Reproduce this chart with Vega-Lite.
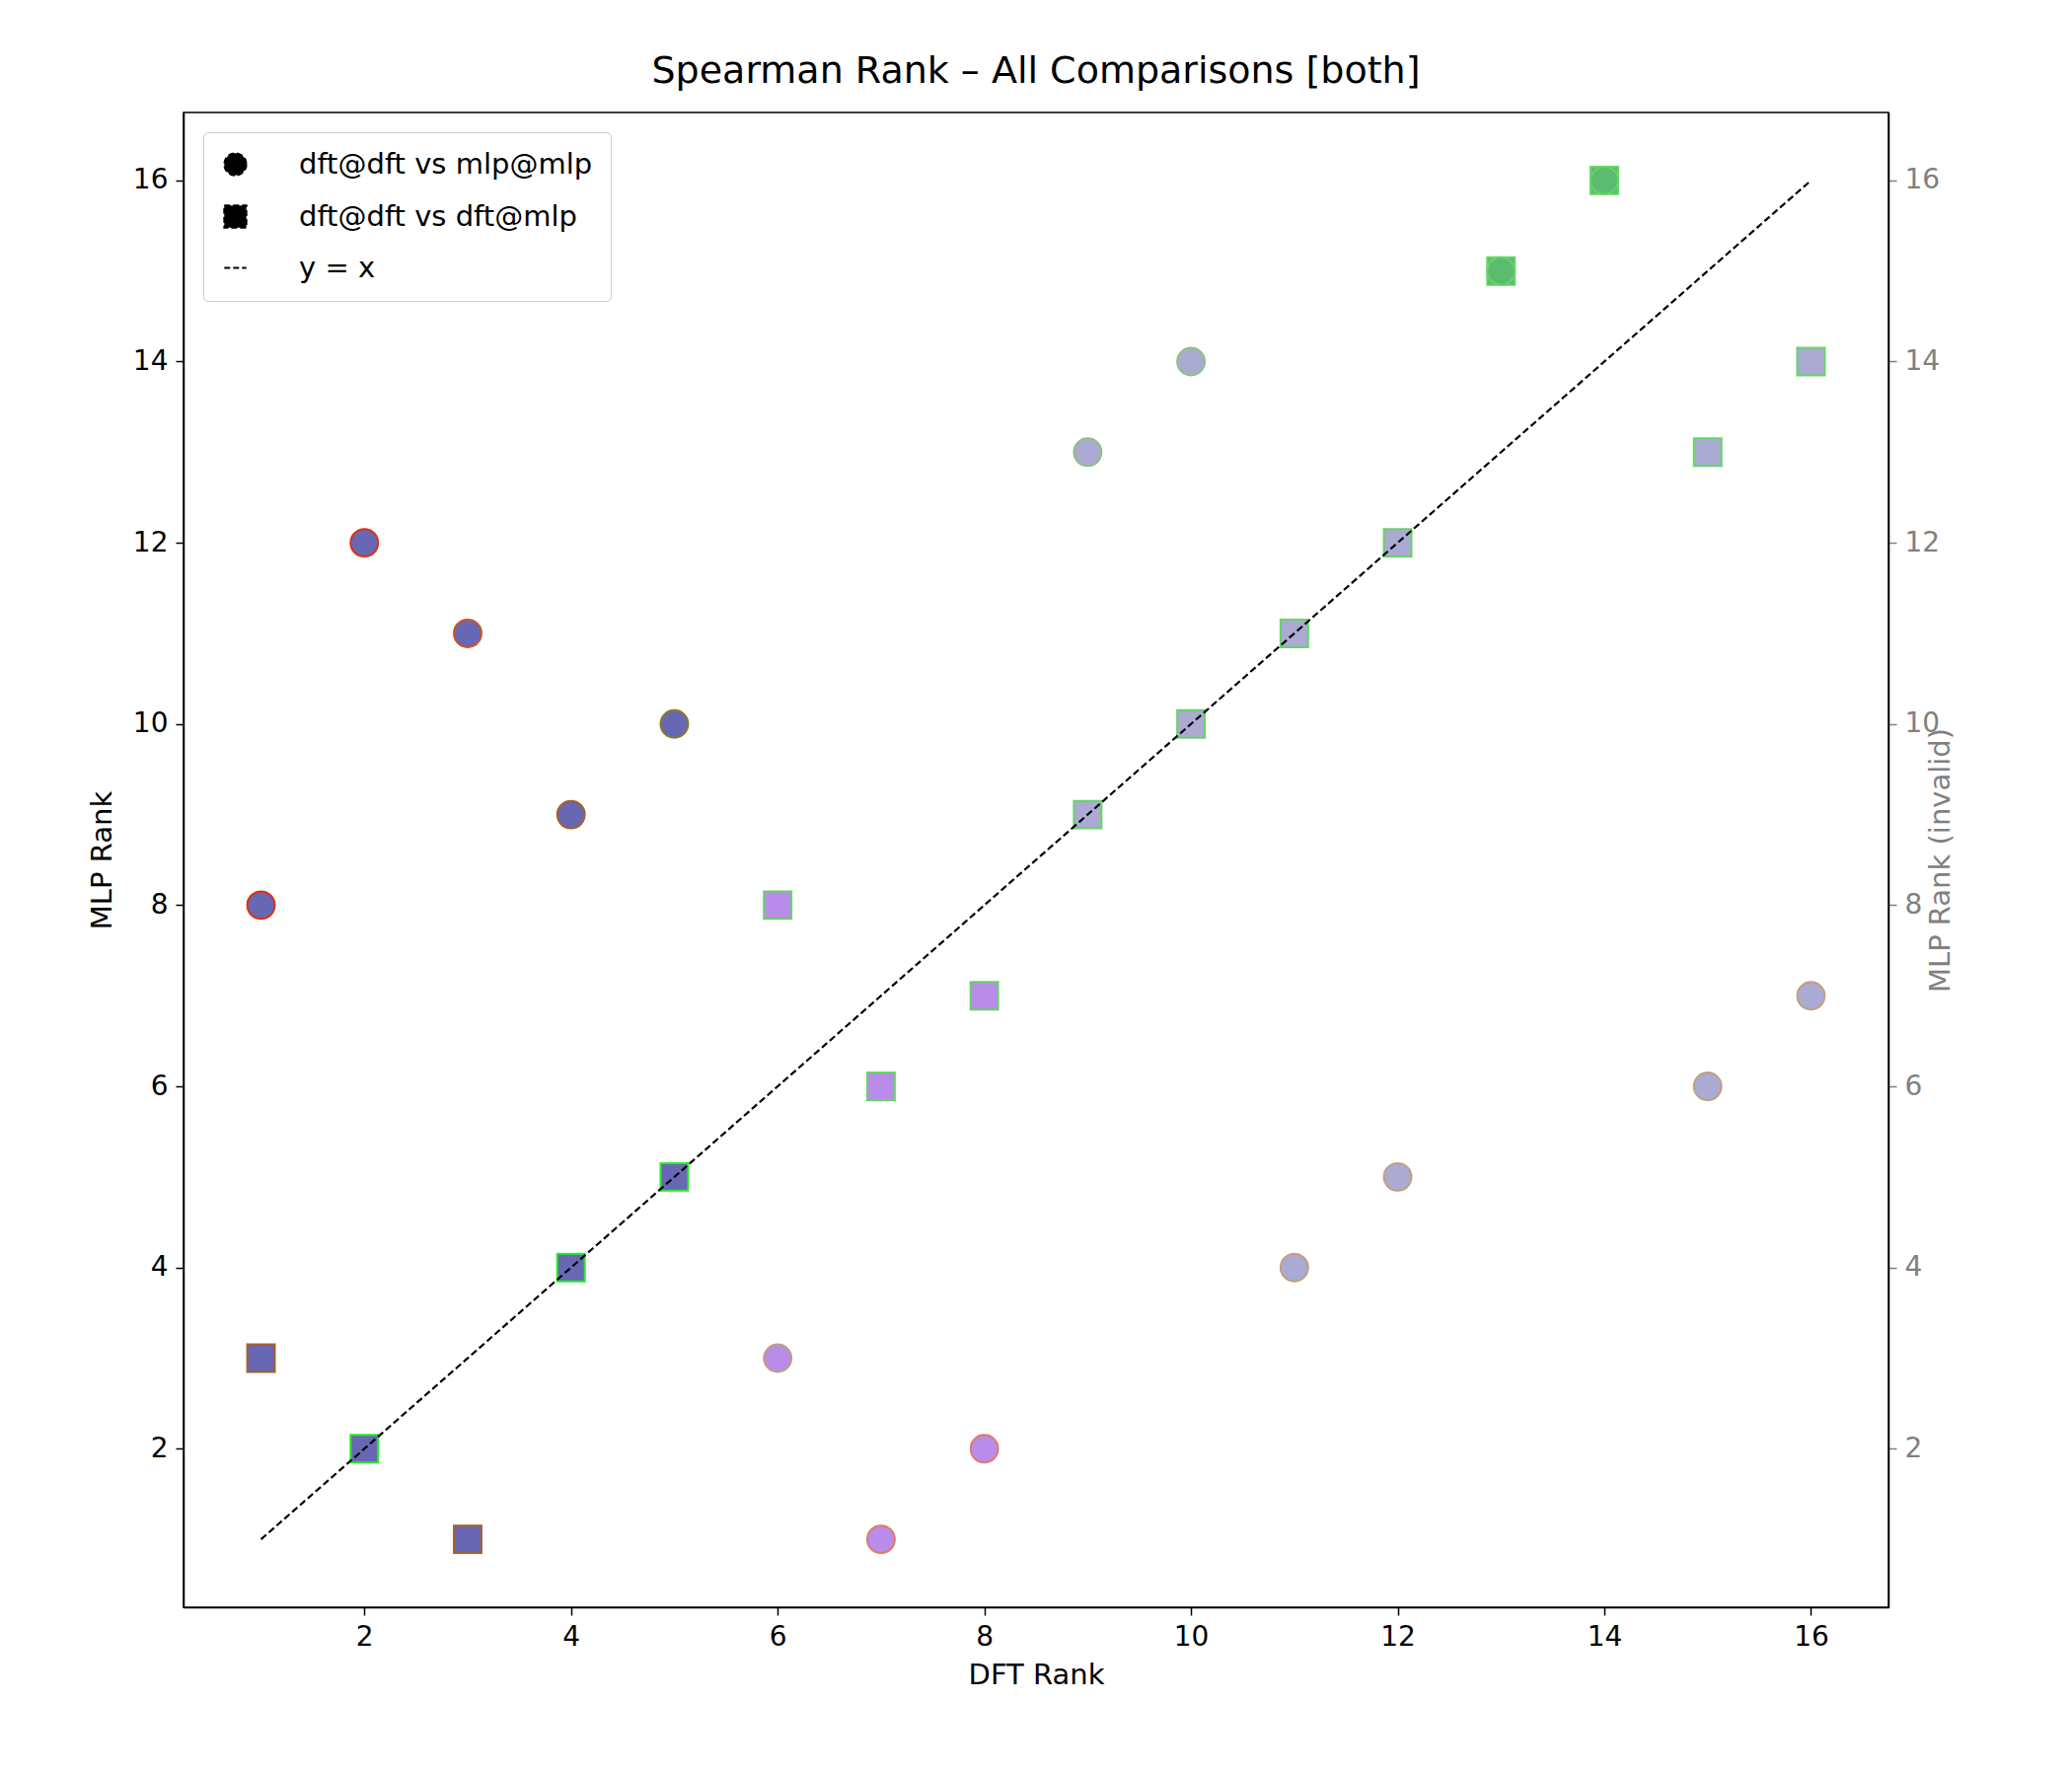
{
  "$schema": "https://vega.github.io/schema/vega-lite/v6.json",
  "width": 1728,
  "height": 1515,
  "autosize": {"type": "none"},
  "padding": {"left": 186, "top": 114, "right": 186, "bottom": 171},
  "background": "white",
  "config": {
    "font": "DejaVu Sans",
    "view": {"stroke": "black", "strokeWidth": 1.5},
    "axis": {"grid": false, "domainColor": "black", "tickColor": "black", "labelColor": "black", "titleColor": "black", "labelFontSize": 28, "titleFontSize": 29, "titleFontWeight": "normal", "tickSize": 8, "domainWidth": 1.5, "tickWidth": 1.5, "labelPadding": 8},
    "title": {"fontSize": 38, "fontWeight": "normal", "offset": 22}
  },
  "title": "Spearman Rank – All Comparisons [both]",
  "datasets": {
    "pts": [
      {"dft": 1, "mlp": 8, "series": "dft@dft vs mlp@mlp", "grp": "a", "edge": "red"},
      {"dft": 2, "mlp": 12, "series": "dft@dft vs mlp@mlp", "grp": "a", "edge": "red"},
      {"dft": 3, "mlp": 11, "series": "dft@dft vs mlp@mlp", "grp": "a", "edge": "orange"},
      {"dft": 4, "mlp": 9, "series": "dft@dft vs mlp@mlp", "grp": "a", "edge": "brown"},
      {"dft": 5, "mlp": 10, "series": "dft@dft vs mlp@mlp", "grp": "a", "edge": "olive"},
      {"dft": 6, "mlp": 3, "series": "dft@dft vs mlp@mlp", "grp": "b", "edge": "tan"},
      {"dft": 7, "mlp": 1, "series": "dft@dft vs mlp@mlp", "grp": "b", "edge": "salmon"},
      {"dft": 8, "mlp": 2, "series": "dft@dft vs mlp@mlp", "grp": "b", "edge": "salmon"},
      {"dft": 9, "mlp": 13, "series": "dft@dft vs mlp@mlp", "grp": "c", "edge": "sage"},
      {"dft": 10, "mlp": 14, "series": "dft@dft vs mlp@mlp", "grp": "c", "edge": "sage"},
      {"dft": 11, "mlp": 4, "series": "dft@dft vs mlp@mlp", "grp": "c", "edge": "tan"},
      {"dft": 12, "mlp": 5, "series": "dft@dft vs mlp@mlp", "grp": "c", "edge": "tan"},
      {"dft": 15, "mlp": 6, "series": "dft@dft vs mlp@mlp", "grp": "c", "edge": "tan"},
      {"dft": 16, "mlp": 7, "series": "dft@dft vs mlp@mlp", "grp": "c", "edge": "tan"},
      {"dft": 1, "mlp": 3, "series": "dft@dft vs dft@mlp", "grp": "a", "edge": "brown"},
      {"dft": 2, "mlp": 2, "series": "dft@dft vs dft@mlp", "grp": "a", "edge": "bright"},
      {"dft": 3, "mlp": 1, "series": "dft@dft vs dft@mlp", "grp": "a", "edge": "brown"},
      {"dft": 4, "mlp": 4, "series": "dft@dft vs dft@mlp", "grp": "a", "edge": "bright"},
      {"dft": 5, "mlp": 5, "series": "dft@dft vs dft@mlp", "grp": "a", "edge": "bright"},
      {"dft": 6, "mlp": 8, "series": "dft@dft vs dft@mlp", "grp": "b", "edge": "green"},
      {"dft": 7, "mlp": 6, "series": "dft@dft vs dft@mlp", "grp": "b", "edge": "green"},
      {"dft": 8, "mlp": 7, "series": "dft@dft vs dft@mlp", "grp": "b", "edge": "green"},
      {"dft": 9, "mlp": 9, "series": "dft@dft vs dft@mlp", "grp": "c", "edge": "green"},
      {"dft": 10, "mlp": 10, "series": "dft@dft vs dft@mlp", "grp": "c", "edge": "green"},
      {"dft": 11, "mlp": 11, "series": "dft@dft vs dft@mlp", "grp": "c", "edge": "green"},
      {"dft": 12, "mlp": 12, "series": "dft@dft vs dft@mlp", "grp": "c", "edge": "green"},
      {"dft": 13, "mlp": 15, "series": "dft@dft vs dft@mlp", "grp": "d", "edge": "green"},
      {"dft": 14, "mlp": 16, "series": "dft@dft vs dft@mlp", "grp": "d", "edge": "green"},
      {"dft": 15, "mlp": 13, "series": "dft@dft vs dft@mlp", "grp": "c", "edge": "green"},
      {"dft": 16, "mlp": 14, "series": "dft@dft vs dft@mlp", "grp": "c", "edge": "green"},
      {"dft": 13, "mlp": 15, "series": "dft@dft vs mlp@mlp", "grp": "d", "edge": "green"},
      {"dft": 14, "mlp": 16, "series": "dft@dft vs mlp@mlp", "grp": "d", "edge": "green"}
    ],
    "diag": [
      {"dft": 1, "mlp": 1},
      {"dft": 16, "mlp": 16}
    ]
  },
  "layer": [
    {
      "data": {"name": "pts"},
      "mark": {"type": "point", "filled": true, "opacity": 1, "size": 780, "strokeWidth": 2},
      "encoding": {
        "x": {"field": "dft", "type": "quantitative", "title": "DFT Rank", "scale": {"domain": [0.25, 16.75], "nice": false, "zero": false}, "axis": {"values": [2, 4, 6, 8, 10, 12, 14, 16], "format": "d", "titlePadding": 10}},
        "y": {"field": "mlp", "type": "quantitative", "title": "MLP Rank", "scale": {"domain": [0.25, 16.75], "nice": false, "zero": false}, "axis": {"values": [2, 4, 6, 8, 10, 12, 14, 16], "format": "d", "titlePadding": 16}},
        "fill": {"field": "grp", "type": "nominal", "legend": null, "scale": {"domain": ["a", "b", "c", "d"], "range": ["#6767b4", "#b98ce9", "#aaaad2", "#5bbb6e"]}},
        "stroke": {"field": "edge", "type": "nominal", "legend": null, "scale": {"domain": ["red", "orange", "brown", "olive", "tan", "salmon", "sage", "green", "bright"], "range": ["#dd3311", "#cc5522", "#a8602a", "#8a7a22", "#c0a080", "#e07a6a", "#90c080", "#66d466", "#22ee22"]}},
        "shape": {"field": "series", "type": "nominal", "scale": {"domain": ["dft@dft vs mlp@mlp", "dft@dft vs dft@mlp", "y = x"], "range": ["circle", "square", "stroke"]},
          "legend": {"title": null, "orient": "top-left", "offset": 20, "labelFontSize": 29, "labelLimit": 600, "symbolSize": 500, "symbolFillColor": "black", "symbolStrokeColor": "black", "symbolStrokeWidth": 2, "symbolDash": [6, 3], "rowPadding": 22, "labelOffset": 50, "padding": 18, "strokeColor": "#cccccc", "fillColor": "white", "cornerRadius": 5}}
      }
    },
    {
      "data": {"name": "diag"},
      "mark": {"type": "line", "color": "black", "strokeDash": [7, 3.5], "strokeWidth": 2.2},
      "encoding": {
        "x": {"field": "dft", "type": "quantitative"},
        "y": {"field": "mlp", "type": "quantitative", "title": "MLP Rank (invalid)", "scale": {"domain": [0.25, 16.75], "nice": false, "zero": false},
          "axis": {"orient": "right", "values": [2, 4, 6, 8, 10, 12, 14, 16], "format": "d", "labelColor": "#808080", "titleColor": "#808080", "tickColor": "#808080", "titlePadding": 16, "titleAngle": 270, "titleBaseline": "bottom"}}
      }
    }
  ],
  "resolve": {"scale": {"y": "independent"}}
}
